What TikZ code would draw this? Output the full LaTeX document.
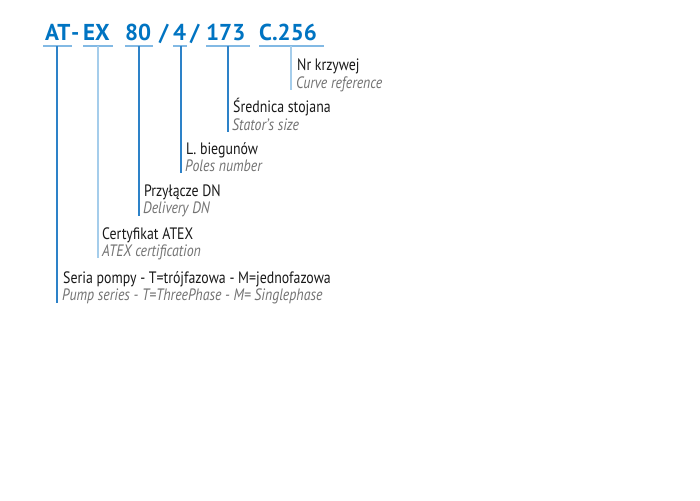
\documentclass[tikz,border=0pt]{standalone}
\usepackage{fontspec}
\setmainfont{PT Sans}[FakeStretch=0.84]
\newfontfamily\codefont{PT Sans}
\definecolor{codeblue}{RGB}{0,116,194}
\definecolor{linedark}{RGB}{45,130,200}
\definecolor{linelight}{RGB}{165,205,235}
\definecolor{ulblue}{RGB}{130,185,228}
\definecolor{txtblack}{RGB}{25,25,25}
\definecolor{txtgrey}{RGB}{115,115,115}
\tikzset{
  code/.style={anchor=base west, inner sep=0pt, font=\codefont\bfseries\fontsize{23}{25}\selectfont, text=codeblue},
  lblmain/.style={anchor=base west, inner sep=0pt, font=\fontsize{16.5}{19}\selectfont, text=txtblack},
  lblsub/.style={anchor=base west, inner sep=0pt, font=\itshape\fontsize{16.5}{19}\selectfont, text=txtgrey},
  uline/.style={draw=ulblue, line width=1.4pt},
  darkleg/.style={draw=linedark, line width=1.3pt},
  lightleg/.style={draw=linelight, line width=1.3pt}
}
\begin{document}
\begin{tikzpicture}[x=1pt,y=-1pt]
\useasboundingbox[fill=white] (0,0) rectangle (700,500);
% code segments
\node[code] (at) at (45,41) {AT};
\node[code] (dash) at (71,41) {-};
\node[code] (ex) at (83,41) {EX};
\node[code] (n80) at (125,41) {80};
\node[code] (s1) at (159,41) {/};
\node[code] (n4) at (173,41) {4};
\node[code] (s2) at (190,41) {/};
\node[code] (n173) at (206,41) {173};
\node[code] (c256) at (259,41) {C.256};
% underline ends
\coordinate (atL) at (43,46);   \coordinate (atR) at (72,46);
\coordinate (exL) at (83,46);   \coordinate (exR) at (113,46);
\coordinate (n80L) at (125,46); \coordinate (n80R) at (153,46);
\coordinate (n4L) at (173,46);  \coordinate (n4R) at (187,46);
\coordinate (n173L) at (206,46);\coordinate (n173R) at (250,46);
\coordinate (c256L) at (259,46);\coordinate (c256R) at (324,46);
\draw[uline] (atL) -- (atR);
\draw[uline] (exL) -- (exR);
\draw[uline] (n80L) -- (n80R);
\draw[uline] (n4L) -- (n4R);
\draw[uline] (n173L) -- (n173R);
\draw[uline] (c256L) -- (c256R);
% leg tops
\coordinate (atT) at (57,46);
\coordinate (exT) at (98,46);
\coordinate (n80T) at (139,46);
\coordinate (n4T) at (181,46);
\coordinate (n173T) at (228,46);
\coordinate (c256T) at (291,46);
% leg bottoms
\coordinate (c256B) at (291,90);
\coordinate (n173B) at (228,132);
\coordinate (n4B) at (181,173);
\coordinate (n80B) at (139,216);
\coordinate (exB) at (98,258);
\coordinate (atB) at (57,303);
\draw[lightleg] (c256T) -- (c256B);
\draw[darkleg] (n173T) -- (n173B);
\draw[darkleg] (n4T) -- (n4B);
\draw[darkleg] (n80T) -- (n80B);
\draw[lightleg] (exT) -- (exB);
\draw[darkleg] (atT) -- (atB);
% labels
\node[lblmain] (l1a) at (297,71) {Nr krzywej};
\node[lblsub]  (l1b) at (296,88.5) {Curve reference};
\node[lblmain] (l2a) at (233,113) {Średnica stojana};
\node[lblsub]  (l2b) at (232,130.5) {Stator’s size};
\node[lblmain] (l3a) at (186,154) {L. biegunów};
\node[lblsub]  (l3b) at (185,171.5) {Poles number};
\node[lblmain] (l4a) at (144,196) {Przyłącze DN};
\node[lblsub]  (l4b) at (143,213.5) {Delivery DN};
\node[lblmain] (l5a) at (102,239) {Certyfikat ATEX};
\node[lblsub]  (l5b) at (102,256.5) {ATEX certification};
\node[lblmain] (l6a) at (63,283) {Seria pompy - T=trójfazowa - M=jednofazowa};
\node[lblsub]  (l6b) at (62,300.5) {Pump series - T=ThreePhase - M= Singlephase};
\end{tikzpicture}
\end{document}
